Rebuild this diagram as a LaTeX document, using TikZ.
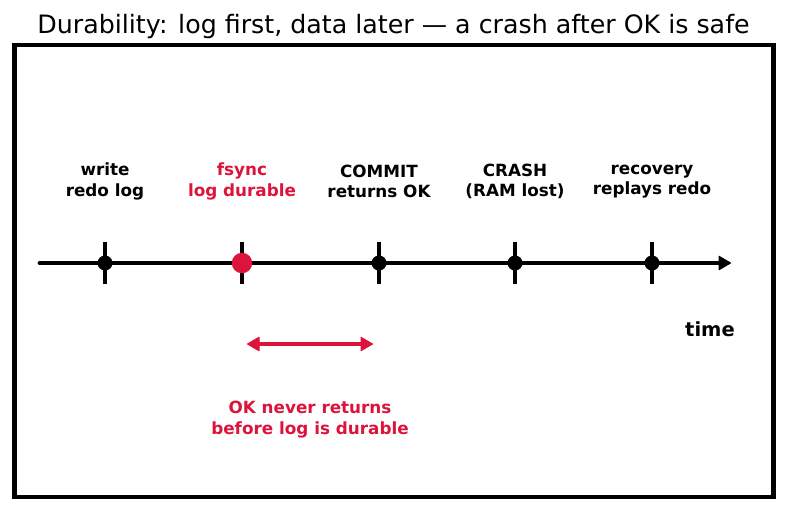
\documentclass[tikz,border=0pt]{standalone}
\usepackage{fontspec}
\setmainfont{DejaVu Sans}
\usetikzlibrary{arrows.meta}
\definecolor{crim}{HTML}{DC143C}
\tikzset{
  evlabel/.style={font=\fontsize{16.8}{20.5}\selectfont\bfseries, align=center, inner sep=0pt},
  tickmark/.style={line width=4.2pt},
  dotmark/.style={circle, fill=black, minimum size=15pt, inner sep=0pt},
  headtip/.tip={Triangle[length=13pt,width=15pt,line join=round,line width=1pt]},
}
\begin{document}
\begin{tikzpicture}[x=1pt,y=-1pt]
\useasboundingbox (0,0) rectangle (787,512);
\node[font=\fontsize{25.3}{28}\selectfont, inner sep=0pt] (title) at (393.5,27) {Durability: log first, data later — a crash after OK is safe};
\draw[line width=4.8pt] (14.5,45) rectangle (773.5,497);
\coordinate (start) at (40,263);
\coordinate (end) at (731,263);
\draw[line width=4.8pt, -headtip, line cap=round] (start) -- (end);
\foreach \x/\n in {105/a,242/b,379/c,515/d,652/e}{
  \draw[tickmark] (\x,242) -- (\x,284);
  \coordinate (\n) at (\x,263);
}
\node[dotmark] (da) at (a) {};
\node[circle, fill=crim, minimum size=20.5pt, inner sep=0pt] (db) at (b) {};
\node[dotmark] (dc) at (c) {};
\node[dotmark] (dd) at (d) {};
\node[dotmark] (de) at (e) {};
\node[evlabel] (la) at (105,181.5) {write\\redo log};
\node[evlabel, text=crim] (lb) at (242,181.5) {fsync\\log durable};
\node[evlabel] (lc) at (379,181.5) {COMMIT\\returns OK};
\node[evlabel] (ld) at (515,181.5) {CRASH\\(RAM lost)};
\node[evlabel] (le) at (652,181.5) {recovery\\replays redo};
\node[font=\fontsize{19.5}{22}\selectfont\bfseries, inner sep=0pt] (time) at (710,329) {time};
\coordinate (ra) at (247,344);
\coordinate (rb) at (373,344);
\draw[crim, line width=4.8pt, headtip-headtip] (ra) -- (rb);
\node[evlabel, text=crim] (note) at (310,419.5) {OK never returns\\before log is durable};
\end{tikzpicture}
\end{document}
